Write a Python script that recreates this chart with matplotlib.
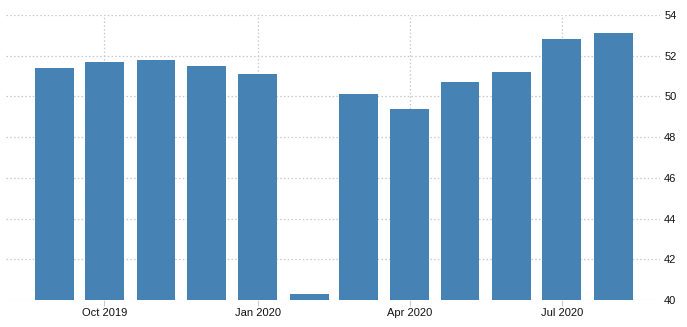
import matplotlib
matplotlib.use("Agg")
import matplotlib.pyplot as plt
import matplotlib.dates as mdates
import numpy as np
import datetime as dt

months = ["2019-09", "2019-10", "2019-11", "2019-12", "2020-01", "2020-02",
          "2020-03", "2020-04", "2020-05", "2020-06", "2020-07", "2020-08"]
values = [51.4, 51.7, 51.8, 51.5, 51.1, 40.3, 50.1, 49.4, 50.7, 51.2, 52.8, 53.1]
xtick_dates = ["2019-10", "2020-01", "2020-04", "2020-07"]
xtick_labels = ["Oct 2019", "Jan 2020", "Apr 2020", "Jul 2020"]
yticks = [40, 42, 44, 46, 48, 50, 52, 54]

def to_date(s):
    y, m = s.split("-")
    return dt.datetime(int(y), int(m), 1)

plt.rcParams['font.family'] = ['Liberation Sans', 'DejaVu Sans']

fig = plt.figure(figsize=(6.87, 3.27), dpi=100)
ax = fig.add_axes([6/687, 27/327, (660-6)/687, (300-15)/327])

x = mdates.date2num([to_date(m) for m in months])
ax.bar(x, values, width=23.3, color="#4682B4", zorder=2, bottom=0)

ax.set_ylim(40, 54)
ax.set_xlim(mdates.date2num(dt.datetime(2019, 8, 3, 5)), mdates.date2num(dt.datetime(2020, 8, 28, 17)))

ax.set_yticks(yticks)
ax.set_yticklabels([str(v) for v in yticks])
ax.yaxis.tick_right()
ax.tick_params(axis='y', length=0, pad=3, labelsize=8, labelcolor="#111111")

xt = mdates.date2num([to_date(m) for m in xtick_dates])
ax.set_xticks(xt)
ax.set_xticklabels(xtick_labels)
ax.tick_params(axis='x', length=4, width=0.8, color="#cccccc", pad=2, labelsize=8, labelcolor="#111111")

ax.grid(True, color="#c8c8c8", linestyle=(0, (1.2, 1.8)), linewidth=0.9, zorder=0)
ax.set_axisbelow(True)
for s in ax.spines.values():
    s.set_visible(False)

fig.savefig("out.png", dpi=100)
